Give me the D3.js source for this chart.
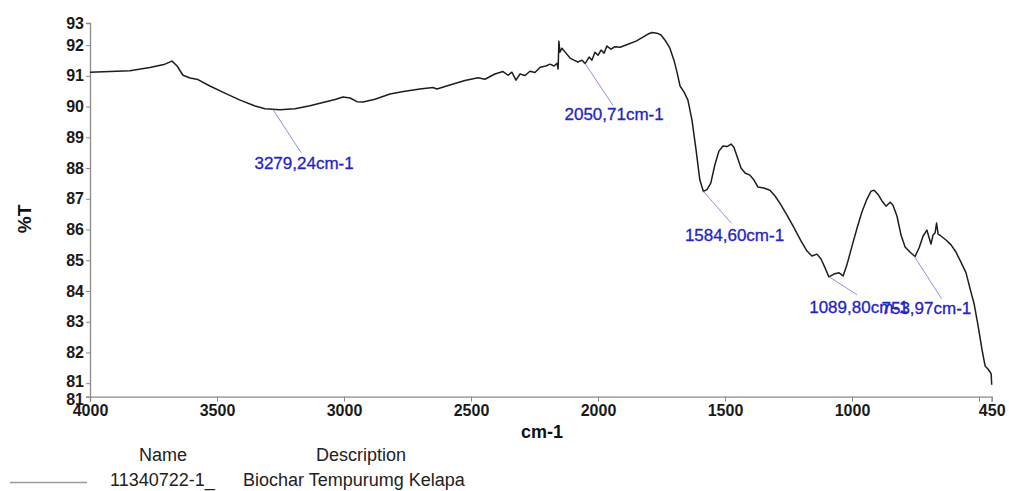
<!DOCTYPE html>
<html>
<head>
<meta charset="utf-8">
<script src="https://cdn.jsdelivr.net/npm/d3@7"></script>
<style>
  body { margin: 0; background: #fff; }
  svg { display: block; font-family: Arial, "Liberation Sans", sans-serif; }
</style>
</head>
<body>
<div class="canvas"></div>
<script>
// spectrum: wavenumber (cm-1) and %T
const wavenumbers = [
  4000, 3921, 3843, 3764, 3705, 3677, 3657, 3634, 3606, 3575,
  3528, 3469, 3409, 3350, 3311, 3252, 3193, 3134, 3075, 3035,
  3004, 2976, 2949, 2925, 2878, 2819, 2760, 2701, 2650, 2634,
  2583, 2524, 2472, 2445, 2406, 2374, 2354, 2339, 2323, 2307,
  2287, 2268, 2248, 2228, 2205, 2189, 2173, 2161, 2157, 2154,
  2150, 2142, 2126, 2110, 2095, 2079, 2063, 2051, 2035, 2024,
  2012, 2000, 1988, 1976, 1965, 1949, 1933, 1913, 1882, 1850,
  1823, 1803, 1787, 1768, 1752, 1736, 1717, 1701, 1689, 1677,
  1661, 1646, 1630, 1614, 1599, 1585, 1571, 1556, 1540, 1524,
  1508, 1492, 1476, 1465, 1453, 1437, 1421, 1402, 1386, 1370,
  1347, 1323, 1303, 1284, 1256, 1228, 1201, 1177, 1158, 1138,
  1122, 1106, 1091, 1071, 1051, 1035, 1020, 1000, 980, 961,
  941, 925, 913, 898, 882, 866, 850, 839, 823, 807,
  791, 772, 752, 736, 720, 705, 697, 689, 681, 673,
  667, 661, 650, 630, 610, 591, 571, 551, 535, 520,
  504, 488, 476, 465, 457, 452, 450
];
const transmittance = [
  91.12, 91.14, 91.17, 91.27, 91.38, 91.48, 91.32, 91.02, 90.93, 90.88,
  90.67, 90.44, 90.21, 90.02, 89.93, 89.90, 89.93, 90.03, 90.15, 90.23,
  90.31, 90.28, 90.16, 90.15, 90.24, 90.41, 90.50, 90.57, 90.62, 90.57,
  90.70, 90.85, 90.94, 90.89, 91.06, 91.14, 91.02, 91.12, 90.86, 91.06,
  91.01, 91.15, 91.11, 91.28, 91.32, 91.38, 91.32, 91.41, 91.22, 92.13,
  91.77, 91.90, 91.74, 91.58, 91.51, 91.45, 91.51, 91.40, 91.61, 91.51,
  91.77, 91.67, 91.84, 91.74, 91.97, 91.87, 91.95, 91.93, 92.03, 92.13,
  92.26, 92.36, 92.41, 92.39, 92.33, 92.16, 91.90, 91.51, 91.12, 90.67,
  90.47, 90.21, 89.56, 88.59, 87.61, 87.24, 87.30, 87.51, 88.10, 88.55,
  88.72, 88.70, 88.78, 88.68, 88.39, 88.00, 87.84, 87.77, 87.61, 87.38,
  87.35, 87.28, 87.09, 86.86, 86.47, 86.05, 85.63, 85.30, 85.14, 85.20,
  85.04, 84.75, 84.46, 84.55, 84.59, 84.49, 84.85, 85.46, 86.05, 86.57,
  86.99, 87.25, 87.28, 87.15, 86.93, 86.76, 86.89, 86.80, 86.44, 85.82,
  85.43, 85.27, 85.12, 85.40, 85.79, 85.98, 85.75, 85.53, 85.82, 85.89,
  86.21, 85.85, 85.79, 85.66, 85.50, 85.27, 84.94, 84.59, 84.07, 83.61,
  82.89, 82.08, 81.56, 81.46, 81.37, 81.30, 80.95
];

// labelled bands
const peakWavenumbers = [3279.24, 2050.71, 1584.60, 1089.80, 753.97];
const peakTransmittance = [89.90, 91.40, 87.24, 84.46, 85.12];
const peakLabels = ["3279,24cm-1", "2050,71cm-1", "1584,60cm-1", "1089,80cm-1", "753,97cm-1"];

// axis ticks
const xTicks = [4000, 3500, 3000, 2500, 2000, 1500, 1000, 500, 450];
const yTicks = [80.56, 81, 82, 83, 84, 85, 86, 87, 88, 89, 90, 91, 92, 92.72];

// legend
const legendHeaders = ["Name", "Description"];
const legendName = "11340722-1_";
const legendDescription = "Biochar Tempurumg Kelapa";

const spectrum = wavenumbers.map((w, i) => ({ w: w, t: transmittance[i] }));
const peaks = peakWavenumbers.map((w, i) => ({ w: w, t: peakTransmittance[i], label: peakLabels[i] }));

const width = 1009, height = 491;
const margin = { left: 90, top: 23, right: 17.3, bottom: 94.3 };

const svg = d3.select(".canvas").append("svg").attr("width", width).attr("height", height);

const x = d3.scaleLinear().domain([4000, 450]).range([margin.left, width - margin.right]);
const y = d3.scaleLinear().domain([80.56, 92.72]).range([height - margin.bottom, margin.top]);

// x axis
const xAxis = svg
  .append("g")
  .attr("transform", `translate(0,${height - margin.bottom})`)
  .call(d3.axisBottom(x).tickValues(xTicks).tickSize(5).tickPadding(3).tickFormat((d) => (d === 500 ? "" : d)));

// y axis
const yAxis = svg
  .append("g")
  .attr("transform", `translate(${margin.left},0)`)
  .call(d3.axisLeft(y).tickValues(yTicks).tickSize(4).tickPadding(2).tickFormat((d) => Math.round(d)));

[xAxis, yAxis].forEach((g) => {
  g.select(".domain").attr("stroke", "#8a8a8a").attr("stroke-width", 1.3);
  g.selectAll(".tick line").attr("stroke", "#8a8a8a").attr("stroke-width", 1);
  g.selectAll(".tick text")
    .attr("fill", "#1a1a1a")
    .style("font-size", "16px")
    .style("font-weight", "bold")
    .style("font-family", "Arial, 'Liberation Sans', sans-serif");
});
// the two "81" labels sit close together at the bottom, like in the original
yAxis.selectAll(".tick text").filter((d) => d < 81).attr("dy", "0.5em");
yAxis.selectAll(".tick text").filter((d) => d === 81).attr("dy", "0.2em");

// axis titles
svg
  .append("text")
  .attr("x", 542)
  .attr("y", 438)
  .attr("text-anchor", "middle")
  .attr("fill", "#111")
  .style("font-size", "18px")
  .style("font-weight", "bold")
  .text("cm-1");

svg
  .append("text")
  .attr("transform", "translate(31,219) rotate(-90)")
  .attr("text-anchor", "middle")
  .attr("fill", "#111")
  .style("font-size", "19px")
  .style("font-weight", "bold")
  .text("%T");

// spectrum line
const line = d3
  .line()
  .x((d) => x(d.w))
  .y((d) => y(d.t));

svg
  .append("path")
  .datum(spectrum)
  .attr("fill", "none")
  .attr("stroke", "#1e1e1e")
  .attr("stroke-width", 1.5)
  .attr("stroke-linejoin", "round")
  .attr("d", line);

// peak labels: leader line down-right from the band, label under its end
const leadDx = [28, 28, 28, 28, 27];
const leadDy = [43, 42, 32, 18, 42];
const labelDx = [31, 29, 31, -20, -33]; // label start/centre offset from band x
const labelAnchor = ["middle", "middle", "middle", "start", "start"];
const labelDy = [59, 56, 50, 36, 57];

const peakGroups = svg.selectAll(".peak").data(peaks).enter().append("g").attr("class", "peak");

peakGroups
  .append("line")
  .attr("x1", (d) => x(d.w))
  .attr("y1", (d) => y(d.t))
  .attr("x2", (d, i) => x(d.w) + leadDx[i])
  .attr("y2", (d, i) => y(d.t) + leadDy[i])
  .attr("stroke", "#8f8fe0")
  .attr("stroke-width", 1);

peakGroups
  .append("text")
  .attr("x", (d, i) => x(d.w) + labelDx[i])
  .attr("y", (d, i) => y(d.t) + labelDy[i])
  .attr("text-anchor", (d, i) => labelAnchor[i])
  .attr("fill", "#2323c8")
  .attr("stroke", "#2323c8")
  .attr("stroke-width", 0.3)
  .style("font-size", "17px")
  .text((d) => d.label);

// legend
svg
  .selectAll(".legend-head")
  .data(legendHeaders)
  .enter()
  .append("text")
  .attr("class", "legend-head")
  .attr("x", (d, i) => [163, 361][i])
  .attr("y", 461)
  .attr("text-anchor", "middle")
  .attr("fill", "#222")
  .style("font-size", "18px")
  .text((d) => d);

svg
  .append("line")
  .attr("x1", 10)
  .attr("x2", 87)
  .attr("y1", 482.5)
  .attr("y2", 482.5)
  .attr("stroke", "#9a9a9a")
  .attr("stroke-width", 1.5);

svg
  .append("text")
  .attr("x", 110)
  .attr("y", 486)
  .attr("fill", "#222")
  .style("font-size", "18px")
  .text(legendName);

svg
  .append("text")
  .attr("x", 243)
  .attr("y", 486)
  .attr("fill", "#222")
  .style("font-size", "18px")
  .text(legendDescription);
</script>
</body>
</html>
